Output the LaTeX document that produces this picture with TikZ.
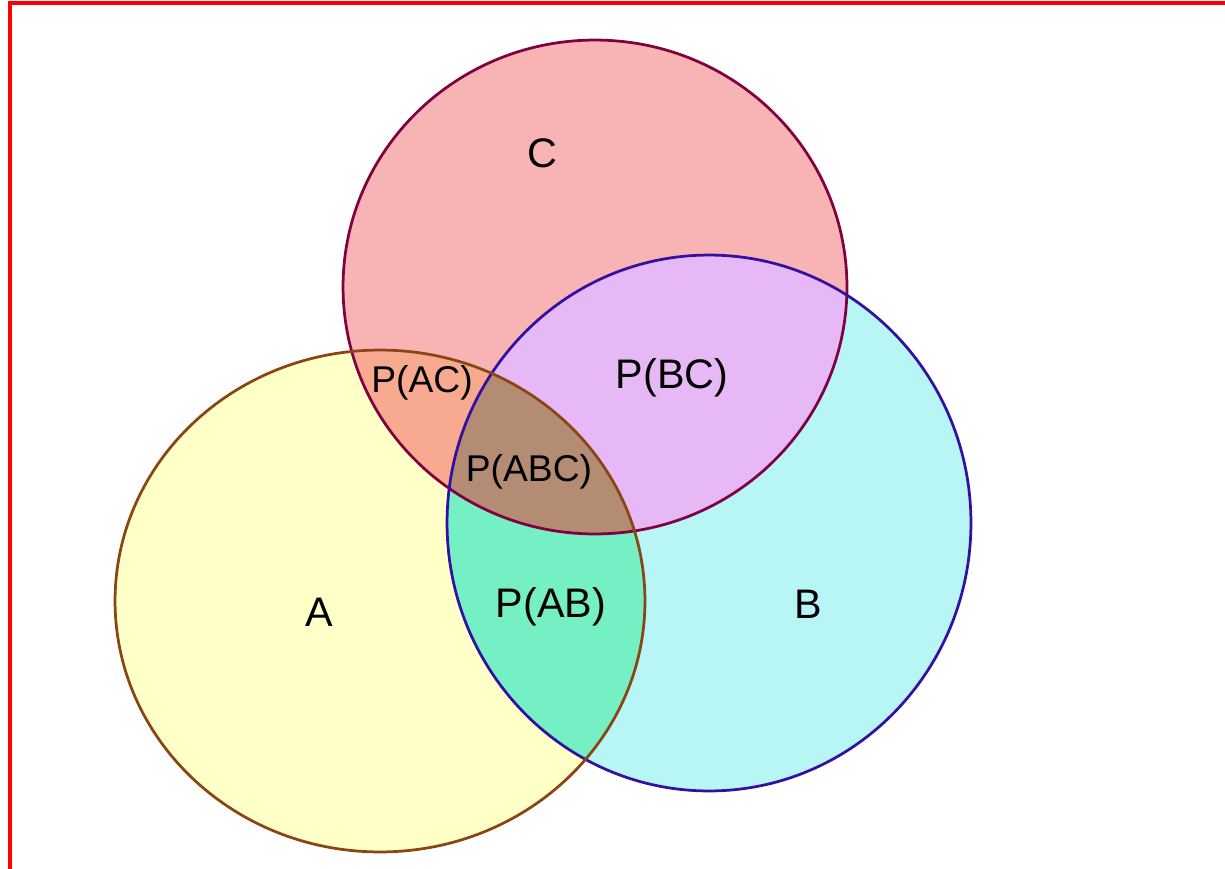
\documentclass[tikz,border=0pt]{standalone}
\usepackage{fontspec}
\setmainfont{Liberation Sans}
\definecolor{fA}{HTML}{FFFFC8}
\definecolor{fC}{HTML}{F8B4B4}
\definecolor{fB}{HTML}{B8F6F6}
\definecolor{fAC}{HTML}{F8AA90}
\definecolor{fBC}{HTML}{E6B8F6}
\definecolor{fAB}{HTML}{74F0C4}
\definecolor{fABC}{HTML}{B48C74}
\definecolor{sA}{HTML}{8B4513}
\definecolor{sC}{HTML}{800040}
\definecolor{sB}{HTML}{3310A0}
\tikzset{
  lbl/.style={font=\fontsize{23.5}{28}\selectfont, inner sep=0pt},
  slbl/.style={font=\fontsize{21.2}{25}\selectfont, inner sep=0pt},
  rim/.style={line width=0.055cm}
}
\begin{document}
\begin{tikzpicture}[x=0.02cm,y=-0.02cm]
\useasboundingbox (0,0) rectangle (1225,869);
\def\pA{(380,601) ellipse [x radius=5.30cm, y radius=5.02cm]}
\def\pC{(595,287) ellipse [x radius=5.04cm, y radius=4.94cm]}
\def\pB{(709,523) ellipse [x radius=5.24cm, y radius=5.36cm]}
\fill[fA] \pA;
\fill[fC] \pC;
\fill[fB] \pB;
\begin{scope}\clip \pA; \fill[fAC] \pC; \end{scope}
\begin{scope}\clip \pB; \fill[fBC] \pC; \end{scope}
\begin{scope}\clip \pA; \fill[fAB] \pB; \end{scope}
\begin{scope}\clip \pA; \clip \pB; \fill[fABC] \pC; \end{scope}
\draw[rim, sC] \pC;
\draw[rim, sB] \pB;
\draw[rim, sA] \pA;
\draw[red, line width=0.075cm] (10,875) -- (10,3) -- (1235,3);
\node[lbl] (lC) at (542,153) {C};
\node[slbl] (lAC) at (422,383) {P(AC)};
\node[lbl] (lBC) at (672,378) {P(BC)};
\node[slbl] (lABC) at (529,472) {P(ABC)};
\node[lbl] (lA) at (319,612) {A};
\node[lbl] (lB) at (808,604) {B};
\node[lbl] (lAB) at (551,607) {P(AB)};
\end{tikzpicture}
\end{document}
